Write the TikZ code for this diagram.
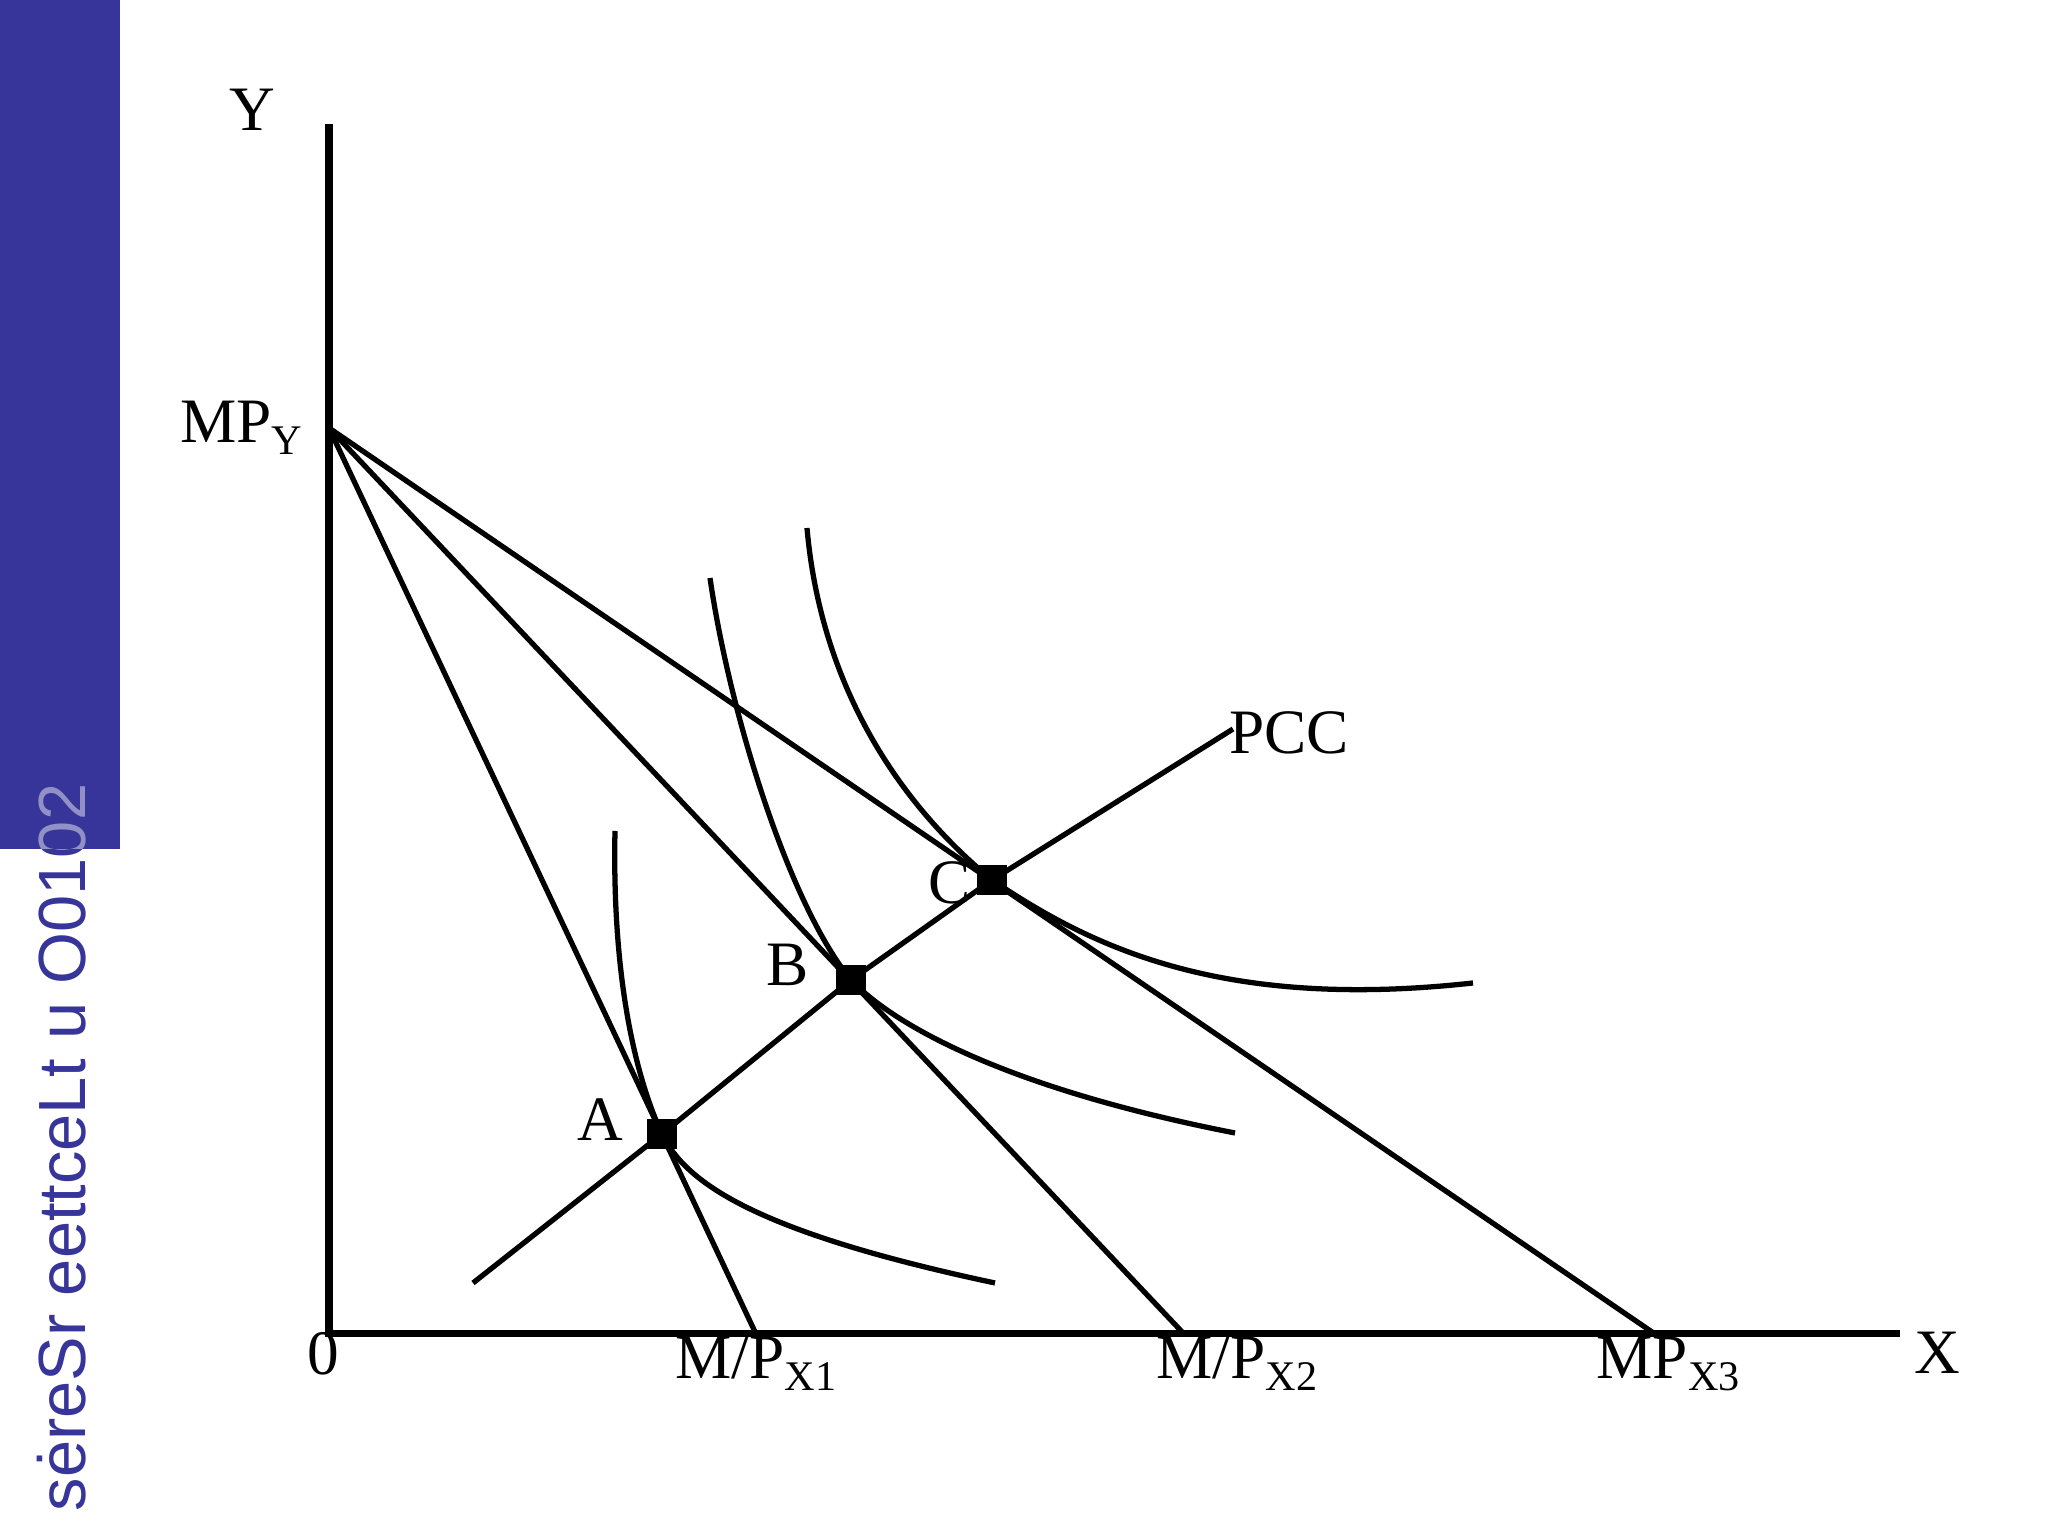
\documentclass[tikz,border=0pt]{standalone}
\usepackage{fontspec}
\setmainfont{Liberation Serif}
\newfontfamily\barfont{Liberation Sans}
\usepackage{xcolor}
\definecolor{barblue}{RGB}{55,53,153}
\tikzstyle{axis} = [line width=2pt]
\tikzstyle{budget} = [line width=1.5pt]
\tikzstyle{indiff} = [line width=1.5pt]
\tikzstyle{eqpt} = [fill=black, minimum size=0.3cm, inner sep=0pt]
\tikzstyle{lbl} = [inner sep=0pt, font=\fontsize{18}{18}\selectfont]
\tikzstyle{sidetxt} = [rotate=90, anchor=base east, inner sep=0pt, font=\barfont\fontsize{19}{19}\selectfont]
\newcommand{\lowsub}[1]{\raisebox{-0.4ex}{\fontsize{12}{12}\selectfont #1}}

\begin{document}
\begin{tikzpicture}
  \useasboundingbox (0,0) rectangle (20.48,15.36);
  % side bar
  \fill[barblue] (0,6.87) rectangle (1.20,15.36);
  \node[sidetxt, text=barblue] (side) at (0.85,7.53) {sėreSr eettceLt u O0102};
  \begin{scope}
    \clip (0,6.87) rectangle (1.20,15.36);
    \node[sidetxt, text=white!45!barblue] (sidebar) at (0.85,7.53) {sėreSr eettceLt u O0102};
  \end{scope}

  \coordinate (O) at (3.29,2.02);
  \coordinate (Ytop) at (3.29,14.12);
  \coordinate (Xend) at (19.00,2.02);
  \coordinate (MPY) at (3.29,11.08);
  \coordinate (MX1) at (7.56,2.02);
  \coordinate (MX2) at (11.84,2.02);
  \coordinate (MX3) at (16.55,2.02);
  \coordinate (pccS) at (4.73,2.53);
  \coordinate (pccE) at (12.33,8.07);
  \node[eqpt] (ptA) at (6.62,4.02) {};
  \node[eqpt] (ptB) at (8.51,5.56) {};
  \node[eqpt] (ptC) at (9.92,6.56) {};

  % axes
  \draw[axis] (Ytop) -- (O) -- (Xend);
  % budget lines
  \draw[budget] (MPY) -- (MX1);
  \draw[budget] (MPY) -- (MX2);
  \draw[budget] (MPY) -- (MX3);
  % indifference curves
  \draw[indiff] (6.15,7.05) .. controls (6.12,5.6) and (6.35,4.6) .. (ptA.center)
    .. controls (6.85,3.55) and (7.5,3.05) .. (9.95,2.53);
  \draw[indiff] (7.10,9.58) .. controls (7.3,8.2) and (7.9,6.3) .. (ptB.center)
    .. controls (9.0,5.05) and (10.2,4.45) .. (12.35,4.03);
  \draw[indiff] (8.07,10.08) .. controls (8.2,8.6) and (8.9,7.4) .. (ptC.center)
    .. controls (10.9,5.9) and (12.2,5.25) .. (14.73,5.53);
  % PCC
  \draw[budget] (pccS) -- (ptA.center) -- (ptB.center) -- (ptC.center) -- (pccE);
  \node[eqpt] at (ptA) {};
  \node[eqpt] at (ptB) {};
  \node[eqpt] at (ptC) {};

  % labels
  \node[lbl] (lblY) at (2.52,14.26) {Y};
  \node[lbl, anchor=base east] (lblMPY) at (3.03,10.93) {MP\lowsub{Y}};
  \node[lbl] (lblO) at (3.23,1.82) {0};
  \node[lbl, anchor=base west] (lblMX1) at (6.75,1.57) {M/P\lowsub{X1}};
  \node[lbl, anchor=base west] (lblMX2) at (11.56,1.57) {M/P\lowsub{X2}};
  \node[lbl, anchor=base west] (lblMX3) at (15.96,1.57) {MP\lowsub{X3}};
  \node[lbl] (lblX) at (19.37,1.83) {X};
  \node[lbl] (lblA) at (6.00,4.16) {A};
  \node[lbl] (lblB) at (7.88,5.71) {B};
  \node[lbl] (lblC) at (9.50,6.53) {C};
  \node[lbl] (lblPCC) at (12.89,8.03) {PCC};
\end{tikzpicture}
\end{document}
